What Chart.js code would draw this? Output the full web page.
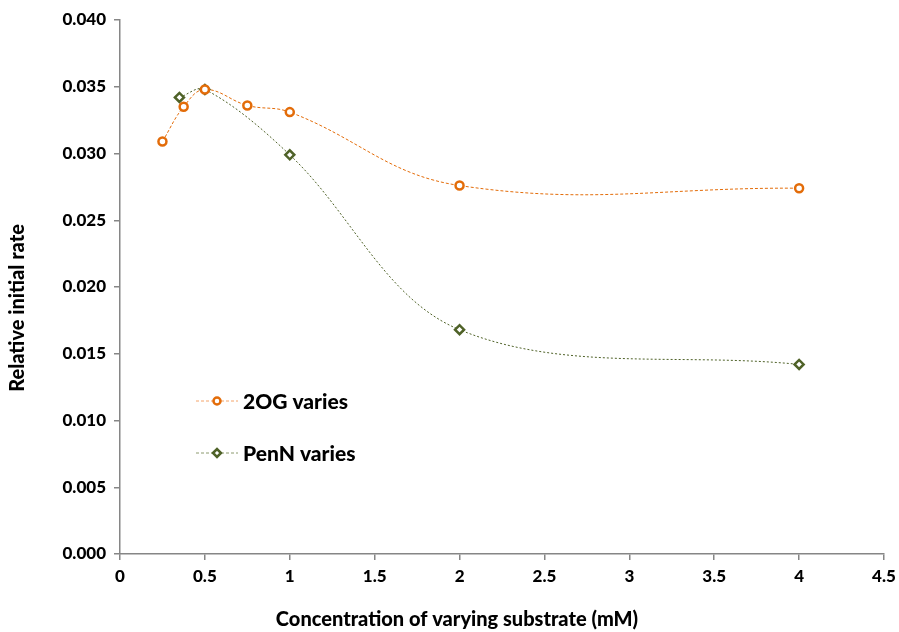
<!DOCTYPE html>
<html>
<head>
<meta charset="utf-8">
<script src="https://cdn.jsdelivr.net/npm/chart.js@4.4.1/dist/chart.umd.min.js"></script>
<style>
  body { margin: 0; background: #fff; }
  #wrap { width: 899px; height: 632px; }
</style>
</head>
<body>
<div id="wrap"><canvas id="c" width="899" height="632"></canvas></div>
<script>
// data
const ogX = [0.25, 0.375, 0.5, 0.75, 1, 2, 4];
const ogY = [0.0309, 0.0335, 0.0348, 0.0336, 0.0331, 0.0276, 0.0274];
const penX = [0.35, 0.5, 1, 2, 4];
const penY = [0.0342, 0.0348, 0.0299, 0.0168, 0.0142];
const seriesNames = ["2OG varies", "PenN varies"];
const xTitle = "Concentration of varying substrate (mM)";
const yTitle = "Relative initial rate";

const orange = "#E36C09";
const green = "#4F6228";
const fontFam = "Lato, 'Open Sans', sans-serif";

function pts(xs, ys) {
    return xs.map((x, i) => ({ x: x, y: ys[i] }));
}

// legend inside the plot + axis titles placed like the original (off-centre)
const extras = {
    id: "extras",
    afterDraw(chart) {
        const ctx = chart.ctx;
        const items = [
            { y: 401, color: orange, light: "#F4A46A", style: "circle" },
            { y: 453, color: green, light: "#8C9A6E", style: "rectRot" }
        ];
        ctx.save();
        items.forEach((it, i) => {
            ctx.strokeStyle = it.light;
            ctx.lineWidth = 1;
            ctx.setLineDash([3, 2]);
            ctx.beginPath();
            ctx.moveTo(196, it.y);
            ctx.lineTo(238, it.y);
            ctx.stroke();
            ctx.setLineDash([]);
            ctx.fillStyle = "#fff";
            ctx.strokeStyle = it.color;
            ctx.lineWidth = 2.5;
            Chart.helpers.drawPoint(ctx, { pointStyle: it.style, radius: it.style === "circle" ? 3.5 : 4, borderWidth: 2.5 }, 217, it.y);
            ctx.fillStyle = "#000";
            ctx.font = "900 21px " + fontFam;
            ctx.textBaseline = "middle";
            ctx.textAlign = "left";
            ctx.fillText(seriesNames[i], 243, it.y + 1);
        });

        ctx.fillStyle = "#000";
        ctx.font = "900 20px " + fontFam;
        ctx.textAlign = "center";
        ctx.textBaseline = "middle";
        ctx.fillText(xTitle, 457, 620);

        ctx.translate(18, 308);
        ctx.rotate(-Math.PI / 2);
        ctx.fillText(yTitle, 0, 0);
        ctx.restore();
    }
};

new Chart(document.getElementById("c"), {
    type: "scatter",
    data: {
        datasets: [
            {
                label: seriesNames[0],
                data: pts(ogX, ogY),
                showLine: true,
                borderColor: orange,
                backgroundColor: "#fff",
                borderWidth: 1,
                borderDash: [3, 2],
                tension: 0.4,
                pointStyle: "circle",
                pointRadius: 4,
                pointBorderWidth: 2.5,
                pointBorderColor: orange,
                pointBackgroundColor: "#fff"
            },
            {
                label: seriesNames[1],
                data: pts(penX, penY),
                showLine: true,
                borderColor: green,
                backgroundColor: "#fff",
                borderWidth: 1,
                borderDash: [2, 2],
                tension: 0.35,
                pointStyle: "rectRot",
                pointRadius: 4.5,
                pointBorderWidth: 2.5,
                pointBorderColor: green,
                pointBackgroundColor: "#fff"
            }
        ]
    },
    options: {
        responsive: false,
        animation: false,
        layout: { padding: { top: 20, right: 15, left: 0, bottom: 0 } },
        plugins: {
            legend: { display: false },
            tooltip: { enabled: false }
        },
        scales: {
            x: {
                type: "linear",
                min: 0,
                max: 4.5,
                afterFit(s) { s.height = 78; s.paddingRight = 0; },
                border: { color: "#868686", width: 1.5 },
                grid: { display: true, drawOnChartArea: false, drawTicks: true, tickLength: 6, color: "#868686", lineWidth: 1.5 },
                ticks: {
                    stepSize: 0.5,
                    color: "#000",
                    padding: 6,
                    font: { family: fontFam, size: 17, weight: "900" },
                    callback: (v) => String(v)
                },
                title: { display: false }
            },
            y: {
                min: 0,
                max: 0.04,
                afterFit(s) { s.width = 120; },
                border: { color: "#868686", width: 1.5 },
                grid: { display: true, drawOnChartArea: false, drawTicks: true, tickLength: 6, color: "#868686", lineWidth: 1.5 },
                ticks: {
                    stepSize: 0.005,
                    color: "#000",
                    padding: 8,
                    font: { family: fontFam, size: 17, weight: "900" },
                    callback: (v) => v.toFixed(3)
                },
                title: { display: false }
            }
        }
    },
    plugins: [extras]
});
</script>
</body>
</html>
